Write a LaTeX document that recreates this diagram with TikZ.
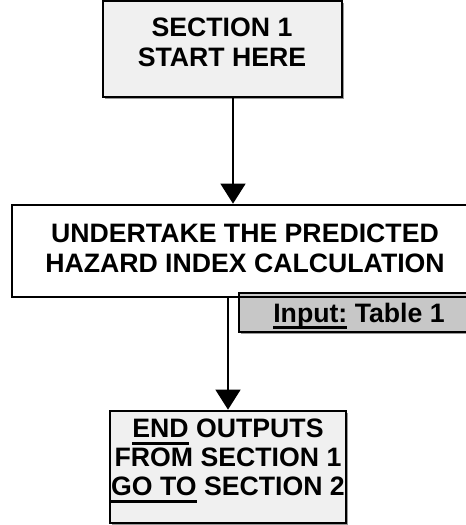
\documentclass[tikz,border=0pt]{standalone}
\usepackage{fontspec}
\setmainfont{Liberation Sans}
\usetikzlibrary{arrows.meta,shadows}
\newsavebox\undlbox
\newcommand{\undl}[1]{\sbox\undlbox{#1}\rlap{\rule[-5.25pt]{\wd\undlbox}{2pt}}\usebox\undlbox}
\tikzset{
        box/.style={draw, line width=2pt, rectangle, inner sep=0pt},
        shade/.style={drop shadow={shadow xshift=1.5pt, shadow yshift=-1.5pt, fill=black!40, opacity=1}},
        txt/.style={anchor=north, inner sep=0pt, align=center, font=\fontsize{20}{22.5}\selectfont\bfseries},
        arr/.style={line width=1pt, -{Triangle[length=15pt, width=18.75pt]}}
}

\begin{document}
\begin{tikzpicture}[x=0.75pt, y=-0.75pt]
        \useasboundingbox (0,0) rectangle (466,525);
        \node (start) [box, shade, fill=black!6, minimum width=179.25pt, minimum height=72pt] at (222.5,49) {};
        \node (inp) [box, shade, fill=black!22, minimum width=180pt, minimum height=29.25pt] at (359,312.5) {};
        \node (mid) [box, minimum width=351pt, minimum height=69pt] at (246,251) {};
        \node (fin) [box, shade, fill=black!6, minimum width=177pt, minimum height=84pt] at (228,467) {};
        \node (startText) [txt] at (222,18) {SECTION 1\\START HERE};
        \node (midText) [txt] at (245,224) {UNDERTAKE THE PREDICTED\\HAZARD INDEX CALCULATION};
        \node (inpText) [txt] at (359,302.5) {\undl{Input:} Table 1};
        \node (finText) [txt, font=\fontsize{20}{21.75}\selectfont\bfseries] at (228,419) {\undl{END} OUTPUTS\\FROM SECTION 1\\\undl{GO TO} SECTION 2};
        \draw [arr] ([xshift=7.875pt]start.south) -- ([xshift=7.875pt]start.south |- mid.north);
        \draw [arr] (fin.north |- mid.south) -- (fin.north);
\end{tikzpicture}
\end{document}
